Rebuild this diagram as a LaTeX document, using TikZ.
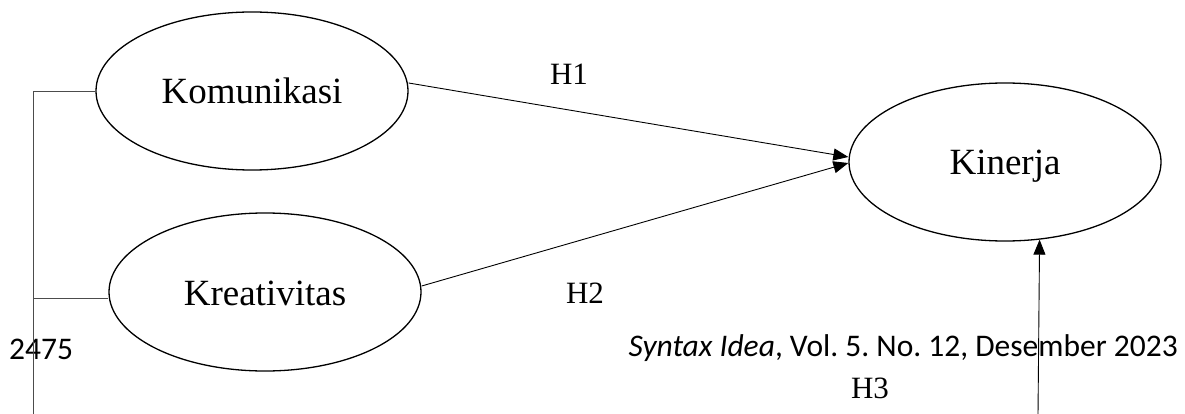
\documentclass[tikz,border=0pt]{standalone}
\usepackage{fontspec}
\setmainfont{Liberation Serif}
\newfontfamily\calib{Carlito}
\usetikzlibrary{shapes.geometric,arrows.meta}
\tikzset{
  latent/.style={ellipse, draw, line width=1.3pt, inner sep=0pt,
    minimum width=312pt, minimum height=158pt,
    font=\fontsize{37}{40}\selectfont, text height=26pt, text depth=0pt},
  path/.style={line width=0.9pt, -{Triangle[length=15pt,width=12pt]}},
  plain/.style={line width=0.9pt, black!70},
  hlabel/.style={anchor=base, inner sep=0pt, font=\fontsize{31}{34}\selectfont},
  journal/.style={inner sep=0pt, font=\calib\fontsize{31.5}{34}\selectfont}
}
\frenchspacing
\begin{document}
\begin{tikzpicture}[x=1pt,y=-1pt]
\useasboundingbox (0,0) rectangle (1185,414);
% ellipses
\node[latent] (kom) at (252,91) {Komunikasi};
\node[latent] (kre) at (265,292) {Kreativitas};
\node[latent] (kin) at (1005,162) {Kinerja};
% labels
\node[hlabel] (h1) at (569,85) {H1};
\node[hlabel] (h2) at (585,303) {H2};
\node[hlabel] (h3) at (870,398) {H3};
\node[journal, anchor=base east] (jr) at (1178,356) {\frenchspacing\textit{Syntax Idea}, Vol. 5. No. 12, Desember 2023};
\node[journal, anchor=base west] (pg) at (9,359) {2475};
% connectors
\coordinate (lb) at (33,414);
\coordinate (lk) at (34,298);
\coordinate (h3b) at (1038,414);
\draw[path] ([yshift=8pt]kom.east) -- ([yshift=5pt]kin.west);
\draw[path] ([yshift=6pt]kre.east) -- ([yshift=-1pt]kin.west);
\draw[path] (h3b) -- (kin.-66.8);
\draw[plain] (lb) |- (kom.west);
\draw[plain] (lk) -- (kre.west |- lk);
\end{tikzpicture}
\end{document}
